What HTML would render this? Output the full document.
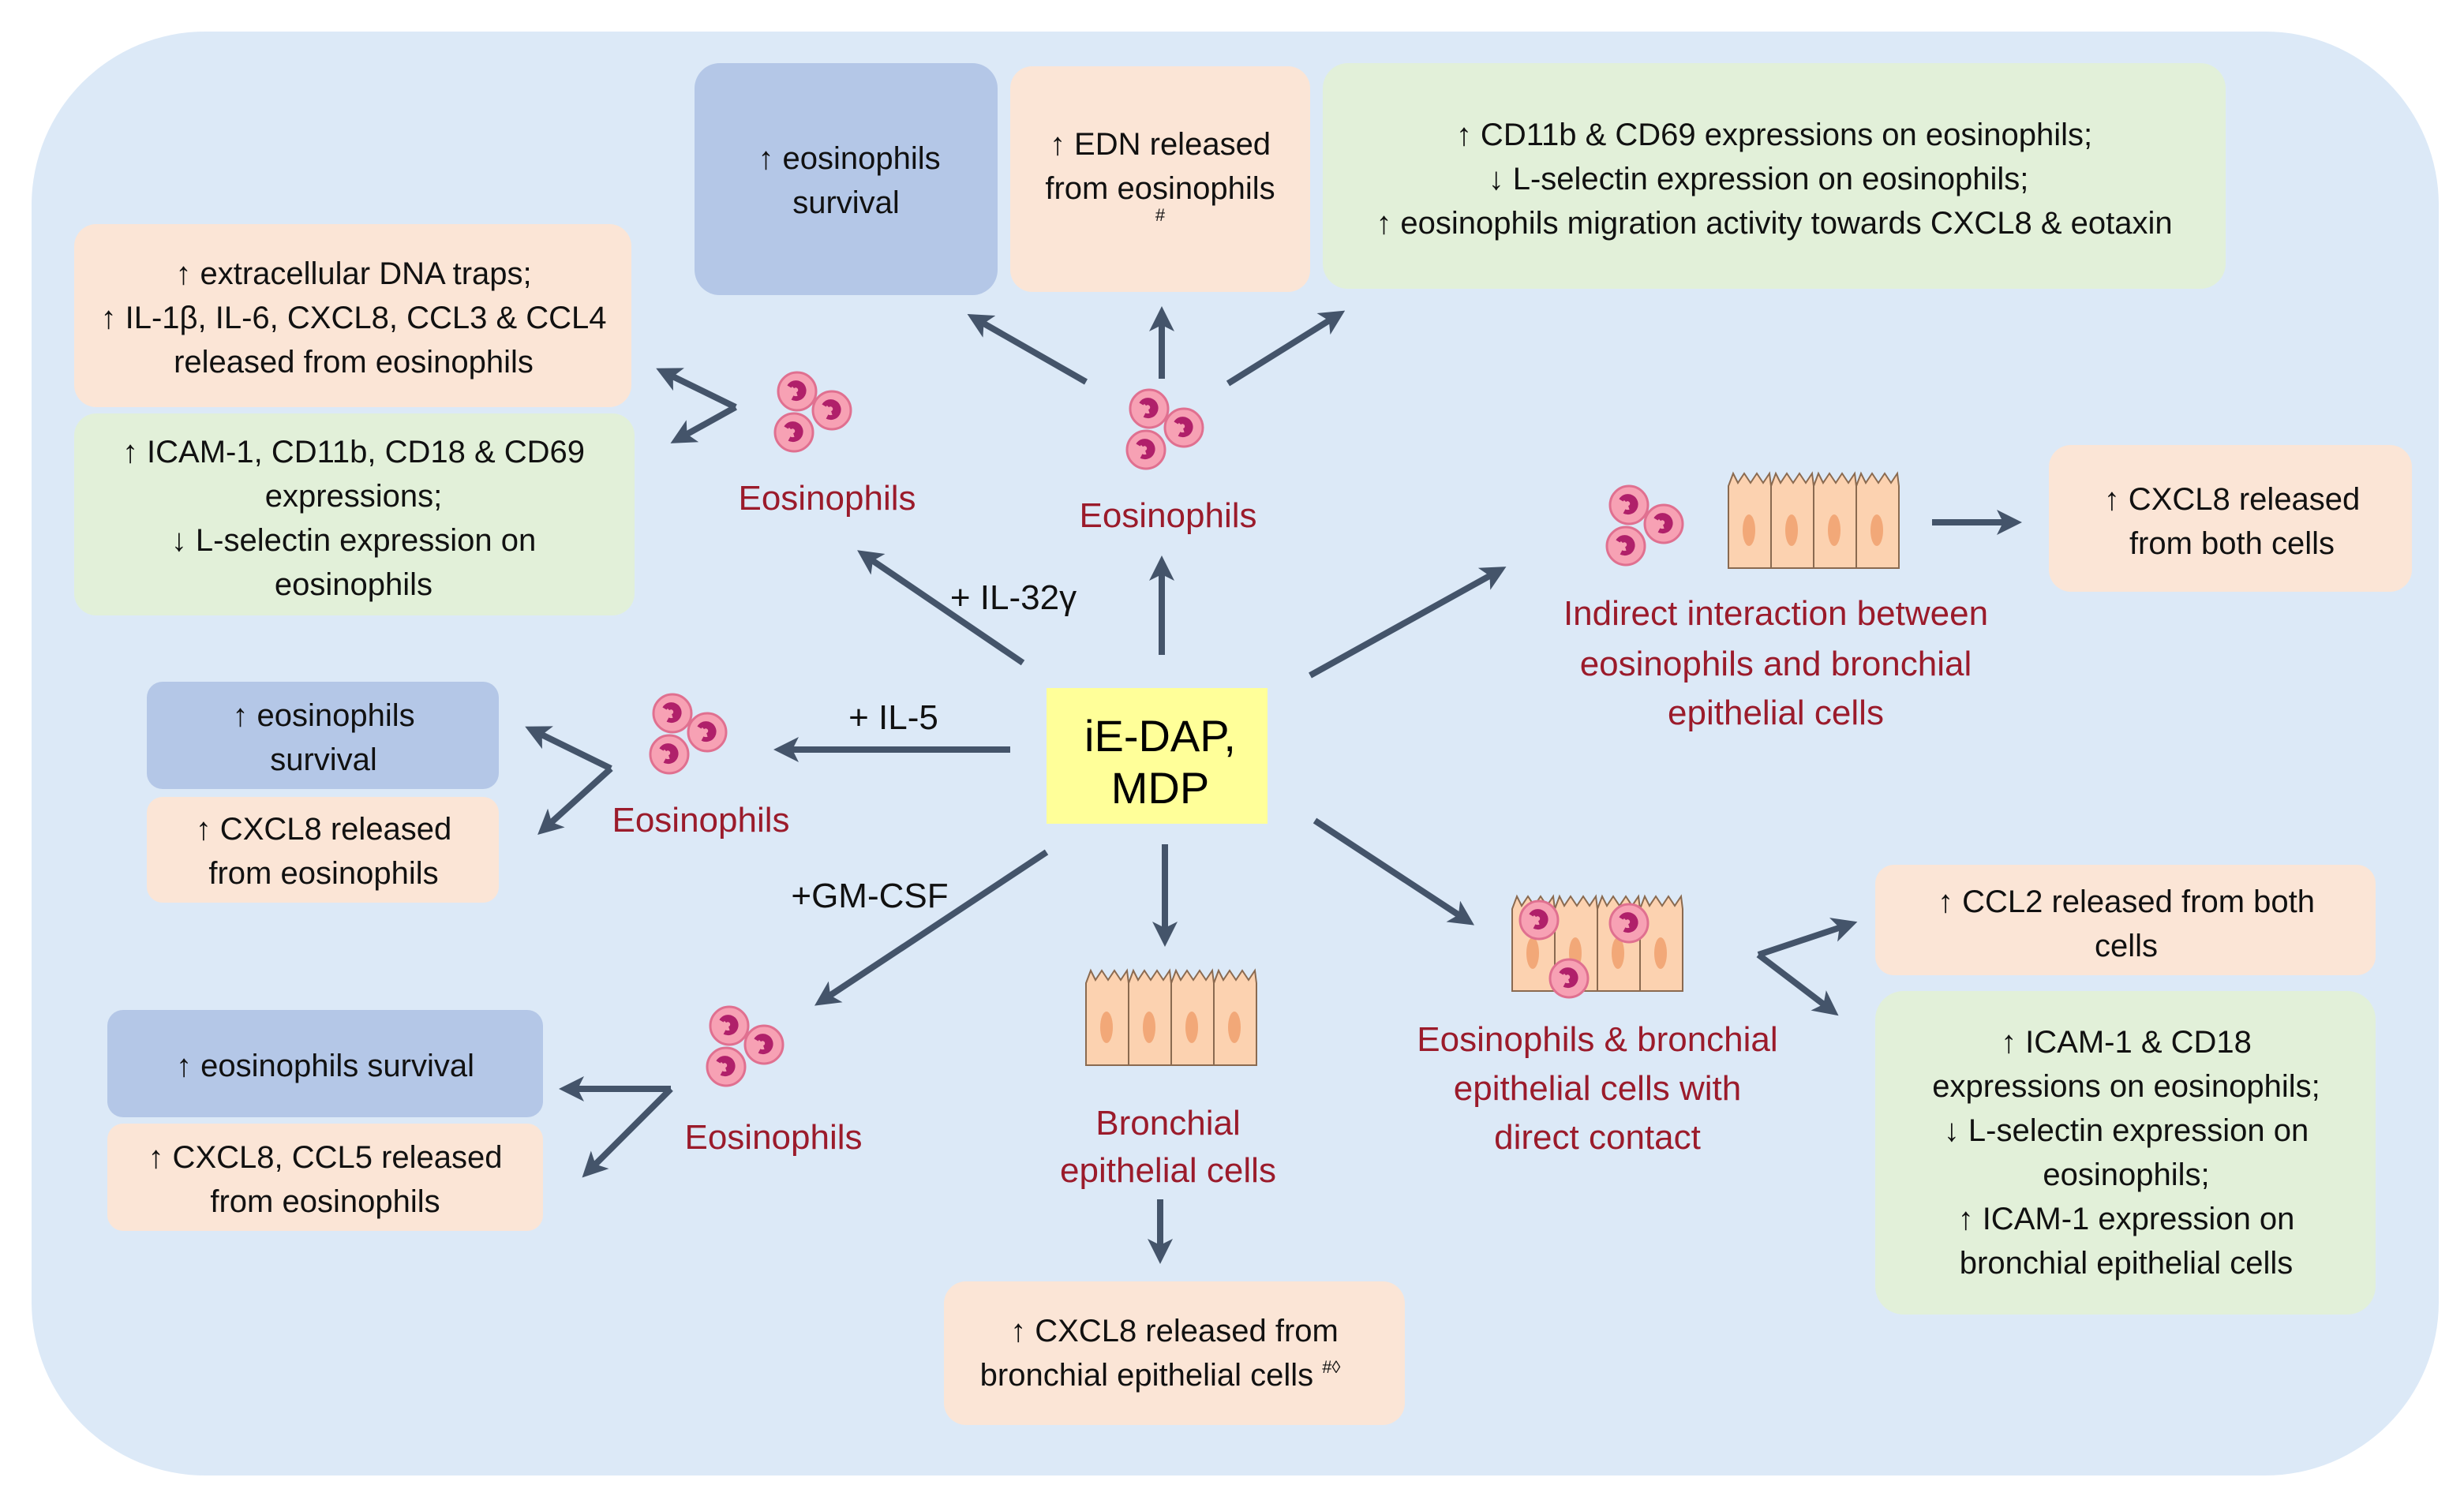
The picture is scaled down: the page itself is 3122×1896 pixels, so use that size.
<!DOCTYPE html>
<html><head><meta charset="utf-8"><style>
html,body{margin:0;padding:0;background:#fff}
svg{display:block}
text{font-family:"Liberation Sans",sans-serif;}
.t{font-size:20px;fill:#111;text-anchor:middle}
.r{font-size:22px;fill:#9b1b2b;text-anchor:middle}
.a{font-size:22px;fill:#111;text-anchor:middle}
.ar{stroke:#44546a;stroke-width:4;fill:none;marker-end:url(#h)}
</style></head><body>
<svg width="3122" height="1896" viewBox="0 0 1561 948" xmlns="http://www.w3.org/2000/svg">
<defs>
<marker id="h" markerWidth="4" markerHeight="4" refX="2.5" refY="2" orient="auto" markerUnits="strokeWidth">
<path d="M0,0 L4,2 L0,4 L1,2 z" fill="#44546a"/></marker>
<g id="eo">
<circle cx="0" cy="0" r="12" fill="#f7a1b4" stroke="#e07090" stroke-width="1.5"/>
<path d="M-5,-3 a5,5 0 1 1 2,7 M0,2 a3,3 0 1 0 -3,-5" stroke="#b0206a" stroke-width="3" fill="none"/>
</g>
<g id="cl"><use href="#eo" x="-10" y="-14"/><use href="#eo" x="12" y="-2"/><use href="#eo" x="-12" y="12"/></g>
<g id="ep">
<g fill="#fcd2b0" stroke="#8a6a50" stroke-width="1">
<path d="M0,8 l3,-8 l3,6 l4,-6 l4,6 l4,-6 l4,6 l4,-6 l1,8 v52 h-27 z"/>
<path d="M27,8 l3,-8 l3,6 l4,-6 l4,6 l4,-6 l4,6 l4,-6 l1,8 v52 h-27 z"/>
<path d="M54,8 l3,-8 l3,6 l4,-6 l4,6 l4,-6 l4,6 l4,-6 l1,8 v52 h-27 z"/>
<path d="M81,8 l3,-8 l3,6 l4,-6 l4,6 l4,-6 l4,6 l4,-6 l1,8 v52 h-27 z"/>
</g>
<g fill="#f2a878"><ellipse cx="13" cy="36" rx="4" ry="10"/><ellipse cx="40" cy="36" rx="4" ry="10"/><ellipse cx="67" cy="36" rx="4" ry="10"/><ellipse cx="94" cy="36" rx="4" ry="10"/></g>
</g>
</defs>
<rect x="20" y="20" width="1525" height="915" rx="110" fill="#dce9f7"/>
<!-- boxes -->
<rect x="440" y="40" width="192" height="147" rx="16" fill="#b4c7e7"/>
<rect x="640" y="42" width="190" height="143" rx="14" fill="#fbe5d6"/>
<rect x="838" y="40" width="572" height="143" rx="16" fill="#e2f0d9"/>
<rect x="47" y="142" width="353" height="116" rx="14" fill="#fbe5d6"/>
<rect x="47" y="262" width="355" height="128" rx="14" fill="#e2f0d9"/>
<rect x="93" y="432" width="223" height="68" rx="10" fill="#b4c7e7"/>
<rect x="93" y="505" width="223" height="67" rx="10" fill="#fbe5d6"/>
<rect x="68" y="640" width="276" height="68" rx="10" fill="#b4c7e7"/>
<rect x="68" y="712" width="276" height="68" rx="10" fill="#fbe5d6"/>
<rect x="598" y="812" width="292" height="91" rx="14" fill="#fbe5d6"/>
<rect x="1298" y="282" width="230" height="93" rx="14" fill="#fbe5d6"/>
<rect x="1188" y="548" width="317" height="70" rx="12" fill="#fbe5d6"/>
<rect x="1188" y="628" width="317" height="205" rx="18" fill="#e2f0d9"/>
<rect x="663" y="436" width="140" height="86" fill="#ffff99"/>
<!-- box text -->
<text class="t" x="538" y="107">↑ eosinophils</text><text class="t" x="536" y="135">survival</text>
<text class="t" x="735" y="98">↑ EDN released</text><text class="t" x="735" y="126">from eosinophils</text><text class="t" x="735" y="140" style="font-size:11px">#</text>
<text class="t" x="1124" y="92">↑  CD11b &amp; CD69 expressions on eosinophils;</text>
<text class="t" x="1114" y="120">↓  L-selectin expression on eosinophils;</text>
<text class="t" x="1124" y="148">↑  eosinophils migration activity towards CXCL8 &amp; eotaxin</text>
<text class="t" x="224" y="180">↑ extracellular DNA traps;</text>
<text class="t" x="224" y="208">↑ IL-1β, IL-6, CXCL8, CCL3 &amp; CCL4</text>
<text class="t" x="224" y="236">released from eosinophils</text>
<text class="t" x="224" y="293">↑  ICAM-1, CD11b, CD18 &amp; CD69</text>
<text class="t" x="224" y="321">expressions;</text>
<text class="t" x="224" y="349">↓  L-selectin expression on</text>
<text class="t" x="224" y="377">eosinophils</text>
<text class="t" x="205" y="460">↑ eosinophils</text><text class="t" x="205" y="488">survival</text>
<text class="t" x="205" y="532">↑ CXCL8 released</text><text class="t" x="205" y="560">from eosinophils</text>
<text class="t" x="206" y="682">↑ eosinophils survival</text>
<text class="t" x="206" y="740">↑ CXCL8, CCL5 released</text><text class="t" x="206" y="768">from eosinophils</text>
<text class="t" x="744" y="850">↑ CXCL8 released from</text>
<text class="t" x="735" y="878">bronchial epithelial cells <tspan style="font-size:11px" dy="-8">#◊</tspan></text>
<text class="t" x="1414" y="323">↑ CXCL8 released</text><text class="t" x="1414" y="351">from both cells</text>
<text class="t" x="1347" y="578">↑ CCL2 released from both</text><text class="t" x="1347" y="606">cells</text>
<text class="t" x="1347" y="667">↑  ICAM-1 &amp; CD18</text>
<text class="t" x="1347" y="695">expressions on eosinophils;</text>
<text class="t" x="1347" y="723">↓  L-selectin expression on</text>
<text class="t" x="1347" y="751">eosinophils;</text>
<text class="t" x="1347" y="779">↑  ICAM-1 expression on</text>
<text class="t" x="1347" y="807">bronchial epithelial cells</text>
<!-- center -->
<text x="735" y="476" style="font-size:28px;text-anchor:middle">iE-DAP,</text>
<text x="735" y="509" style="font-size:28px;text-anchor:middle">MDP</text>
<!-- labels -->
<text class="r" x="524" y="323">Eosinophils</text>
<text class="r" x="740" y="334">Eosinophils</text>
<text class="r" x="444" y="527">Eosinophils</text>
<text class="r" x="490" y="728">Eosinophils</text>
<text class="r" x="740" y="719">Bronchial</text><text class="r" x="740" y="749">epithelial cells</text>
<text class="r" x="1125" y="396">Indirect interaction between</text>
<text class="r" x="1125" y="428">eosinophils and bronchial</text>
<text class="r" x="1125" y="459">epithelial cells</text>
<text class="r" x="1012" y="666">Eosinophils &amp; bronchial</text>
<text class="r" x="1012" y="697">epithelial cells with</text>
<text class="r" x="1012" y="728">direct contact</text>
<text class="a" x="642" y="386">+ IL-32γ</text>
<text class="a" x="566" y="462">+ IL-5</text>
<text class="a" x="551" y="575">+GM-CSF</text>
<!-- icons -->
<use href="#cl" x="515" y="262"/>
<use href="#cl" x="738" y="273"/>
<use href="#cl" x="436" y="466"/>
<use href="#cl" x="472" y="664"/>
<use href="#cl" x="1042" y="334"/>
<use href="#ep" x="1095" y="300"/>
<use href="#ep" x="688" y="615"/>
<use href="#ep" x="958" y="568"/>
<use href="#eo" x="975" y="583"/>
<use href="#eo" x="1032" y="585"/>
<use href="#eo" x="994" y="620"/>
<!-- arrows -->
<g>
<line class="ar" x1="648" y1="420" x2="548" y2="352"/>
<line class="ar" x1="736" y1="415" x2="736" y2="358"/>
<line class="ar" x1="640" y1="475" x2="496" y2="475"/>
<line class="ar" x1="663" y1="540" x2="521" y2="634"/>
<line class="ar" x1="738" y1="535" x2="738" y2="594"/>
<line class="ar" x1="830" y1="428" x2="949" y2="362"/>
<line class="ar" x1="833" y1="520" x2="929" y2="583"/>
<line class="ar" x1="735" y1="760" x2="735" y2="795"/>
<line class="ar" x1="688" y1="242" x2="618" y2="202"/>
<line class="ar" x1="736" y1="240" x2="736" y2="200"/>
<line class="ar" x1="778" y1="243" x2="847" y2="200"/>
<path class="ar" d="M466,258 L421,236"/><path class="ar" d="M466,258 L430,278"/>
<path class="ar" d="M387,487 L338,463"/><path class="ar" d="M387,487 L345,525"/>
<path class="ar" d="M425,690 L360,690"/><path class="ar" d="M425,690 L373,742"/>
<line class="ar" x1="1224" y1="331" x2="1275" y2="331"/>
<path class="ar" d="M1114,605 L1171,586"/><path class="ar" d="M1114,605 L1160,640"/>
</g>
</svg>
</body></html>
